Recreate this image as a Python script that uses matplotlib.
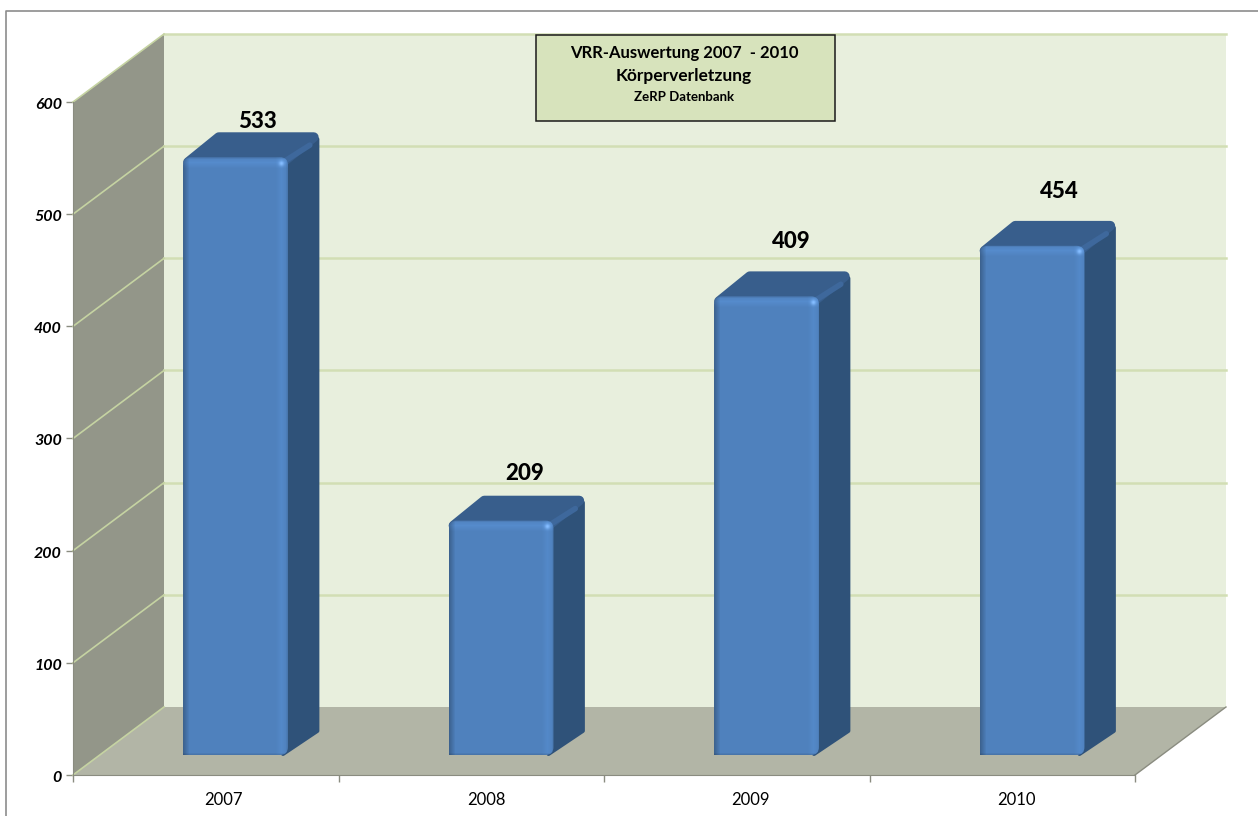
import numpy as np
import matplotlib
matplotlib.use('Agg')
import matplotlib.pyplot as plt
from matplotlib.patches import Polygon, FancyBboxPatch, Rectangle
from matplotlib.transforms import ScaledTranslation

# Data
years = ['2007', '2008', '2009', '2010']
counts = [533, 209, 409, 454]
y_ticks = [0, 100, 200, 300, 400, 500, 600]

# Pixel layout of the front plane
W, H = 1258, 816
left, right, bottom, top = 73, 1135, 775, 102

plt.rcParams['font.family'] = ['Lato', 'DejaVu Sans']

fig = plt.figure(figsize=(W / 100, H / 100), dpi=100)
fig.patch.set_facecolor('white')
ax = fig.add_axes([left / W, 1 - bottom / H, (right - left) / W, (bottom - top) / H])
ax.patch.set_visible(False)

# One data unit in pixels
px_x = (right - left) / len(years)
px_y = (bottom - top) / y_ticks[-1]
# Full depth of the 3d box, in data units
depth_x = 91 / px_x
depth_y = 68 / px_y


def project(x, y, d):
    return x + d * depth_x, y + d * depth_y


def poly(points, color, z, **kw):
    ax.add_patch(Polygon(points, closed=True, facecolor=color, edgecolor=kw.pop('edgecolor', 'none'),
                         zorder=z, clip_on=False, **kw))


n = len(years)
ymax = y_ticks[-1]

# Walls and floor
poly([project(0, 0, 1), project(n, 0, 1), project(n, ymax, 1), project(0, ymax, 1)], '#e8efdd', 1)
poly([project(0, 0, 0), project(0, 0, 1), project(0, ymax, 1), project(0, ymax, 0)], '#939689', 1)
poly([project(0, 0, 0), project(n, 0, 0), project(n, 0, 1), project(0, 0, 1)], '#b2b5a6', 1)

# Grid lines run along the side wall and across the back wall
for t in y_ticks:
    a = project(0, t, 0)
    b = project(0, t, 1)
    c = project(n, t, 1)
    if t > 0:
        ax.plot([b[0], c[0]], [b[1], c[1]], color='#d2deb4', lw=1.8, zorder=2, clip_on=False)
    ax.plot([a[0], b[0]], [a[1], b[1]], color='#c5d3a2', lw=1.2, zorder=2, clip_on=False)
ax.plot([n, n + depth_x], [0, depth_y], color='#8a8c80', lw=1, zorder=2, clip_on=False)

# Bars
bar_w = 105 / px_x
shift = 3 / px_x
front_d = 20 / 68
bar_d = 23 / 68
round_x = 8 / px_x
round_y = 8 / px_y
label_lift = [36, 47, 55, 54]  # pixels above the front top edge
label_nudge = [0, 2, 3, 6]  # pixels to the right
year_nudge = [18, 15, 14, 14]  # pixels, category labels sit under the bars


def bar_image(w_px, h_px):
    # left edge dark, lighter band at the right, bevel along the top
    cols = np.arange(w_px)
    rows = np.arange(h_px)
    base = np.array([0x4f, 0x81, 0xbd]) / 255
    shade = np.ones(w_px)
    shade -= 0.24 * np.clip(1 - cols / 6, 0, 1)
    shade += 0.06 * np.clip(1 - np.abs(cols - (w_px - 7)) / 6, 0, 1)
    shade -= 0.08 * np.clip(1 - (w_px - 1 - cols) / 2, 0, 1)
    img = np.ones((h_px, w_px, 3)) * base
    img *= shade[None, :, None]
    bevel = 1 + 0.08 * np.clip(1 - np.abs(rows - 5) / 6, 0, 1) - 0.10 * np.clip(1 - rows / 2, 0, 1)
    bevel -= 0.10 * np.clip(1 - (h_px - 1 - rows) / 2, 0, 1)
    img *= bevel[:, None, None]
    # glint at the top right corner
    yy, xx = np.mgrid[0:h_px, 0:w_px]
    glint = np.exp(-((xx - (w_px - 7)) ** 2 + (yy - 6) ** 2) / 7)
    img += glint[:, :, None] * 0.17
    return (np.clip(img, 0, 1) * 255).astype(np.uint8)


for i, v in enumerate(counts):
    x0, y0 = project(i + 0.5 - bar_w / 2 + shift, 0, front_d)
    x1 = x0 + bar_w
    ytop = y0 + v
    ox, oy = bar_d * depth_x, bar_d * depth_y
    ins_x, ins_y = 5 / px_x, 5 / px_y
    edge_x = x1 + ox - 1.5 / px_x

    # side and top faces, thick round edge gives the soft corners
    poly([(x1 - ins_x, y0 + 1), (edge_x, y0 + oy + 1), (edge_x, ytop + oy - ins_y),
          (x1 - ins_x, ytop - ins_y)], '#2f5279', 4, edgecolor='#2f5279', lw=3, joinstyle='round')
    poly([(x0 + ins_x, ytop - ins_y), (x1 - ins_x, ytop - ins_y), (x1 + ox - ins_x, ytop + oy - ins_y + 2 / px_y),
          (x0 + ox + ins_x, ytop + oy - ins_y + 2 / px_y)], '#385e8c', 5,
         edgecolor='#385e8c', lw=7, joinstyle='round')
    # ridge between the top and side faces
    ax.plot([x1 - ins_x, x1 + ox - 9 / px_x], [ytop - ins_y, ytop + oy - 11 / px_y], color='#3e689c', lw=4,
            solid_capstyle='round', zorder=5.5, clip_on=False)

    # front face
    face = bar_image(105, int(round(v * px_y)))
    im = ax.imshow(face, extent=[x0, x1, y0, ytop], aspect='auto', zorder=6, interpolation='nearest')
    clip = FancyBboxPatch((x0 + round_x, y0 + round_y), bar_w - 2 * round_x, v - 2 * round_y,
                          boxstyle='round,pad=%f,rounding_size=%f' % (round_x, round_x),
                          mutation_aspect=round_y / round_x, transform=ax.transData,
                          facecolor='none', edgecolor='none', clip_on=False)
    ax.add_patch(clip)
    im.set_clip_path(clip)
    # left bottom corner of the bar stays square
    ax.imshow(face[-9:, :9], extent=[x0, x0 + 9 / px_x, y0, y0 + 9 / px_y],
              aspect='auto', zorder=6, interpolation='nearest')

    ax.annotate(str(v), (x0 + bar_w / 2 + ox * 0.7, ytop), xytext=(label_nudge[i] * 0.72, label_lift[i] * 0.72),
                textcoords='offset points', ha='center', va='center', fontsize=16,
                fontweight='black', color='black', zorder=8, annotation_clip=False)

# Axes
ax.set_xlim(0, n)
ax.set_ylim(0, ymax)
ax.set_xticks(np.arange(n + 1))
ax.set_xticklabels([])
ax.set_xticks(np.arange(n) + 0.5, years, minor=True)
ax.set_yticks(y_ticks)
ax.set_yticklabels([str(t) for t in y_ticks], fontsize=11.5, fontstyle='italic', fontweight='bold')
ax.tick_params(axis='x', which='major', length=5, color='#8a8c80', width=1)
ax.tick_params(axis='x', which='minor', length=0, pad=12, labelsize=12)
ax.tick_params(axis='y', length=5, color='#8a8c80', width=1, pad=3)
for lab, dx in zip(ax.get_xticklabels(minor=True), year_nudge):
    lab.set_transform(lab.get_transform() + ScaledTranslation(dx / 100, 0, fig.dpi_scale_trans))
nudge_y = ScaledTranslation(0, -1.5 / 100, fig.dpi_scale_trans)
for lab in ax.get_yticklabels():
    lab.set_transform(lab.get_transform() + nudge_y)
for s in ['top', 'right']:
    ax.spines[s].set_visible(False)
ax.spines['left'].set_color('#8a8c80')
ax.spines['bottom'].set_color('#8a8c80')
for s in ['left', 'bottom']:
    ax.spines[s].set_zorder(3)

# Outer chart frame, cut off at the image edge
fig.add_artist(plt.Line2D([6 / W, 6 / W, 1], [0, 1 - 11 / H, 1 - 11 / H], color='#8c8c8c', lw=1.2))

# Title box
fig.add_artist(Rectangle((536 / W, 1 - 121 / H), 299 / W, 86 / H, transform=fig.transFigure,
                         facecolor='#d7e3bc', edgecolor='#1a1a1a', lw=1.1, zorder=9))
fig.text(684 / W, 1 - 53 / H, 'VRR-Auswertung 2007  - 2010', ha='center', va='center', fontsize=12,
         fontweight='bold', zorder=10)
fig.text(684 / W, 1 - 76 / H, 'Körperverletzung', ha='center', va='center', fontsize=12.5,
         fontweight='bold', zorder=10)
fig.text(684 / W, 1 - 97 / H, 'ZeRP Datenbank', ha='center', va='center', fontsize=9.5,
         fontweight='bold', zorder=10)

fig.savefig('out.png', dpi=100)
